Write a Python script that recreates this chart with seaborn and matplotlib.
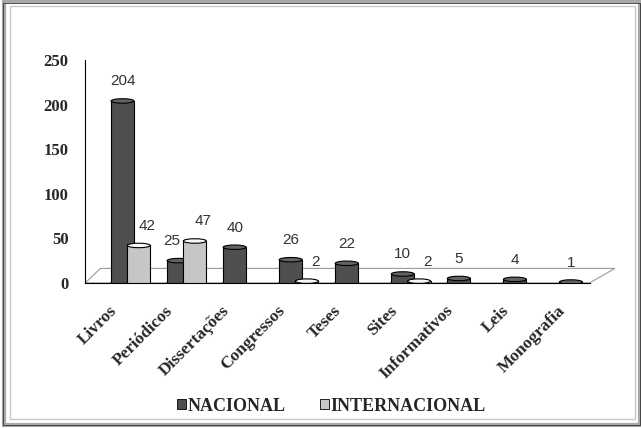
import numpy as np
import pandas as pd
import matplotlib
matplotlib.use("Agg")
import matplotlib.pyplot as plt
import seaborn as sns
from matplotlib.patches import Ellipse, Rectangle, Polygon

# data
categories = ["Livros", "Periódicos", "Dissertações", "Congressos", "Teses",
              "Sites", "Informativos", "Leis", "Monografia"]
nacional = [204, 25, 40, 26, 22, 10, 5, 4, 1]
internacional = [42, 47, np.nan, 2, np.nan, 2, np.nan, np.nan, np.nan]
series_names = ["NACIONAL", "INTERNACIONAL"]
colors = {"NACIONAL": "#4f4f4f", "INTERNACIONAL": "#c6c6c6"}

df = pd.DataFrame({
    "categoria": categories * 2,
    "valor": nacional + internacional,
    "serie": [series_names[0]] * len(categories) + [series_names[1]] * len(categories),
})

sns.set_style("white")
serif = ["Liberation Serif", "DejaVu Serif"]

fig = plt.figure(figsize=(6.41, 4.28), dpi=100)
ax = fig.add_axes([0.133, 0.339, 0.787, 0.521])

sns.barplot(data=df, x="categoria", y="valor", hue="serie", palette=colors,
            edgecolor="black", linewidth=0.8, width=0.58, ax=ax, legend=False,
            saturation=1)

# pseudo-3D: widen the bars so they overlap, push them right like the perspective
for k, cont in enumerate(ax.containers):
    for i, patch in enumerate(cont):
        h = patch.get_height()
        if np.isnan(h):
            continue
        cx = patch.get_x() + patch.get_width() / 2 + 0.31
        w = 0.41
        patch.set_x(cx - w / 2)
        patch.set_width(w)
        patch.set_zorder(2 + k)
        fc = patch.get_facecolor()
        cap = tuple(min(1, c * 1.25) for c in fc[:3])
        ax.add_patch(Ellipse((cx, h), w, 5, facecolor=cap, edgecolor="black",
                             linewidth=0.8, zorder=2.5 + k))
        ax.add_patch(Ellipse((cx, 0), w, 5, facecolor=fc, edgecolor="black",
                             linewidth=0.8, zorder=1.9 + k))
        # labels move sideways where two bars stand together
        dx = 0
        if k == 1:
            dx = 6
        elif not np.isnan(internacional[i]) and internacional[i] > h:
            dx = -5
        ax.annotate(f"{h:.0f}", (cx, h), xytext=(dx, 9), textcoords="offset points",
                    ha="center", va="bottom", fontsize=11, color="#333333",
                    family=["Liberation Sans", "DejaVu Sans"], zorder=5)

# floor of the 3D plot area
floor = Polygon([(0, 0), (1, 0), (1.05, 0.065), (0.03, 0.065)],
                closed=True, transform=ax.transAxes, facecolor="white",
                edgecolor="#999999", linewidth=0.8, zorder=0.5, clip_on=False)
ax.add_patch(floor)

ax.set_ylim(0, 250)
ax.set_yticks([0, 50, 100, 150, 200, 250])
ax.set_xlim(-0.5, len(categories) - 0.5)
ax.set_xlabel("")
ax.set_ylabel("")
for s in ["top", "right"]:
    ax.spines[s].set_visible(False)
for s in ["left", "bottom"]:
    ax.spines[s].set_color("black")
    ax.spines[s].set_linewidth(0.8)

ax.set_xticks(np.arange(len(categories) + 1) - 0.5)
ax.set_xticklabels([""] * (len(categories) + 1))
ax.tick_params(axis="x", direction="out", length=5, width=0.8, color="black")
ax.tick_params(axis="y", direction="out", length=4, width=0.8, color="black", pad=8)

for lab in ax.get_yticklabels():
    lab.set_fontfamily(serif)
    lab.set_fontweight("bold")
    lab.set_fontsize(12)

for i, name in enumerate(categories):
    ax.text(i - 0.08, -22, name, rotation=45, ha="right", va="top",
            fontsize=12.5, fontweight="bold", family=serif,
            rotation_mode="anchor", transform=ax.transData)

# legend
handles = [Rectangle((0, 0), 1, 1, facecolor=colors[n], edgecolor="black", linewidth=0.6)
           for n in series_names]
fig.legend(handles, series_names, loc="center", bbox_to_anchor=(0.517, 0.051),
           ncol=2, frameon=False, handlelength=0.5, handleheight=0.5,
           handletextpad=0.08, columnspacing=1.9,
           prop={"family": serif, "weight": "bold", "size": 13})

# chart frame
fig.patches.append(Rectangle((0.006, 0.007), 0.992, 0.99, transform=fig.transFigure,
                             fill=False, edgecolor="#a8a8a8", linewidth=3.0))
fig.patches.append(Rectangle((0.005, 0.006), 0.993, 0.988, transform=fig.transFigure,
                             fill=False, edgecolor="#333333", linewidth=0.6))
fig.patches.append(Rectangle((0.016, 0.02), 0.975, 0.965, transform=fig.transFigure,
                             fill=False, edgecolor="#c8c8c8", linewidth=1.0))

fig.savefig("out.png", dpi=100)
